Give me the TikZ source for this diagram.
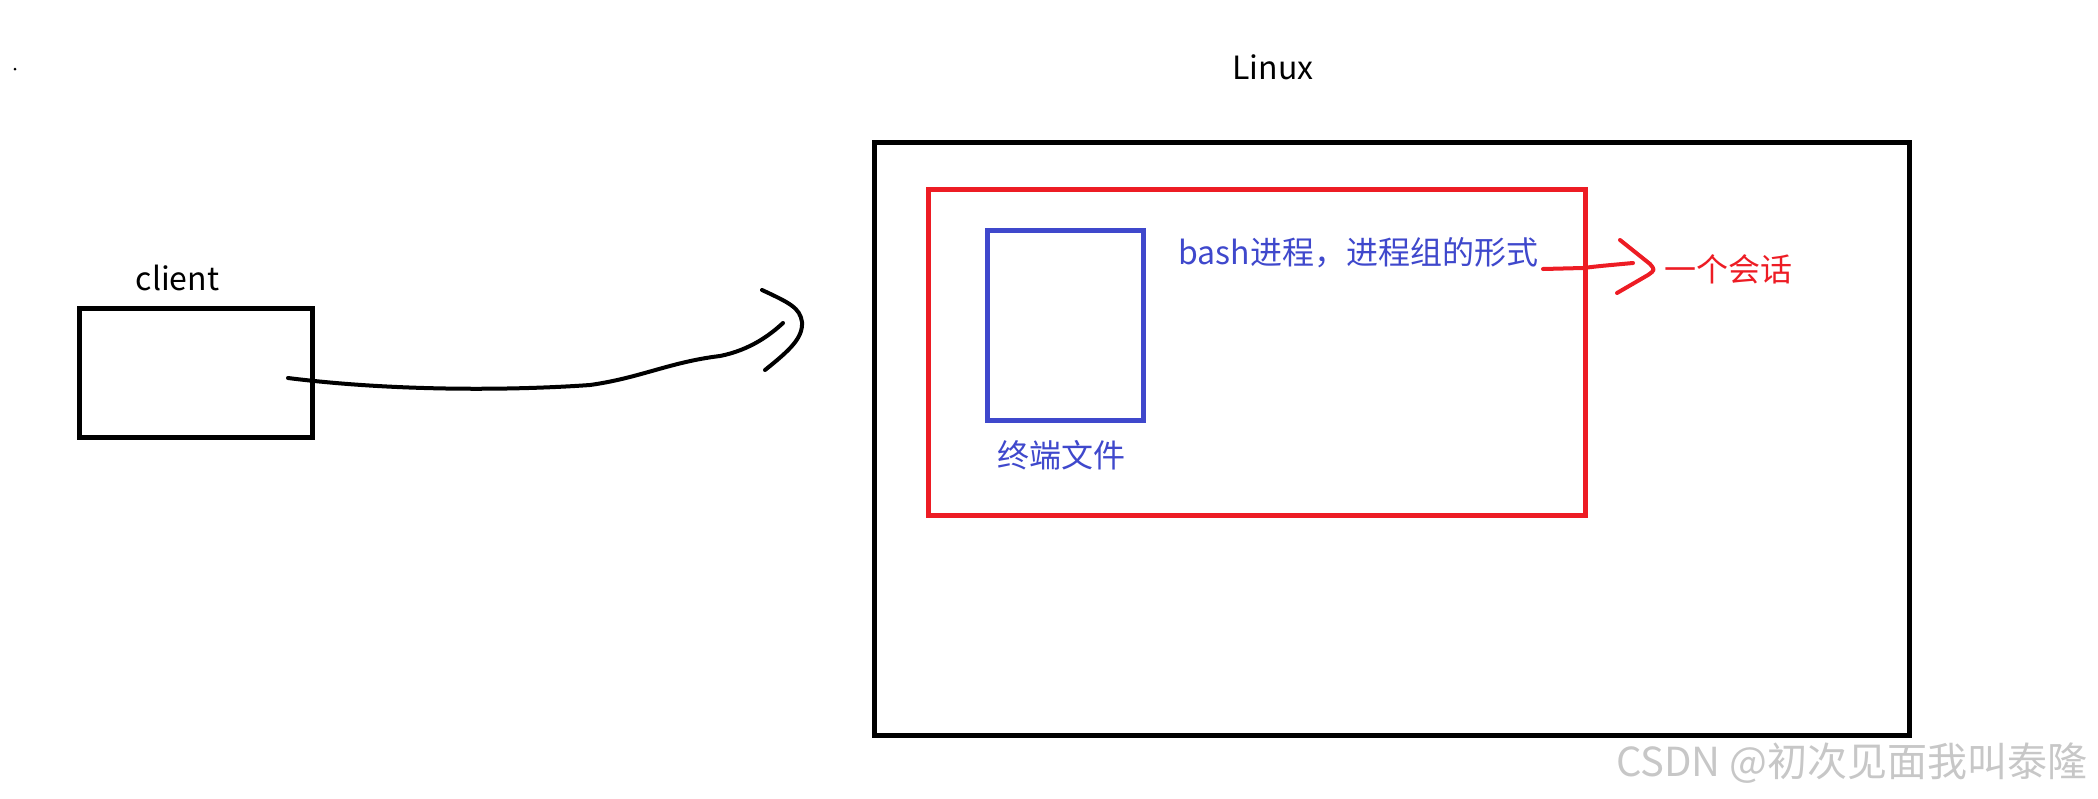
\documentclass[tikz,border=0pt]{standalone}
\usepackage{fontspec}
\setmainfont{Noto Sans CJK SC}
\definecolor{paintred}{HTML}{ED1C24}
\definecolor{paintblue}{HTML}{3F48CC}
\begin{document}
\begin{tikzpicture}[x=0.5pt,y=-0.5pt,
        box/.style={draw,line width=2.5pt,minimum width=#1,inner sep=0pt},
        hand/.style={line width=2pt,line cap=round,line join=round},
        lbl/.style={font=\fontsize{16pt}{19pt}\selectfont,inner sep=0pt}]
            \useasboundingbox (0,0) rectangle (2098,798);
            \fill (15,69) circle (1.5);
            % client side
            \node[box=116.75pt,minimum height=64.5pt] (client) at (196,373) {};
            \node[lbl,anchor=base] (clientlbl) at (177.5,290) {client};
            % linux side
            \node[box=517.5pt,minimum height=296.25pt] (linux) at (1392,438.75) {};
            \node[lbl,anchor=base] (linuxlbl) at (1273,79) {Linux};
            \node[box=328.25pt,minimum height=162.75pt,draw=paintred] (session) at (1256.75,352.25) {};
            \node[box=78pt,minimum height=94.75pt,draw=paintblue] (tty) at (1065.5,325.25) {};
            \node[lbl,text=paintblue] (ttylbl) at (1061.5,455) {终端文件};
            \node[lbl,text=paintblue,anchor=base west] (bashlbl) at (1178,264) {bash进程，进程组的形式};
            \node[lbl,text=paintred] (sessionlbl) at (1728,269) {一个会话};
            % wire from client
            \coordinate (wirestart) at (288,378);
            \coordinate (wireend) at (783,323);
            \draw[hand] (wirestart) .. controls (400,392) and (520,390) .. (590,385)
                .. controls (640,378) and (670,362) .. (720,356)
                .. controls (750,350) and (770,335) .. (wireend);
            \draw[hand] (762,290) .. controls (790,303) and (800,308) .. (802,322)
                .. controls (803,338) and (790,350) .. (765,370);
            % red arrow to label
            \coordinate (notestart) at (1543,269);
            \coordinate (noteend) at (1633,263);
            \draw[hand,paintred] (notestart) -- (1583,268) .. controls (1600,266) .. (noteend);
            \draw[hand,paintred] (1620,240) -- (1650,264) .. controls (1655,270) .. (1648,275) -- (1617,293);
            % watermark
            \node[font=\fontsize{20pt}{24pt}\selectfont,text=black!22,inner sep=0pt,anchor=east] (mark) at (2088,763) {CSDN @初次见面我叫泰隆};
        \end{tikzpicture}
\end{document}
